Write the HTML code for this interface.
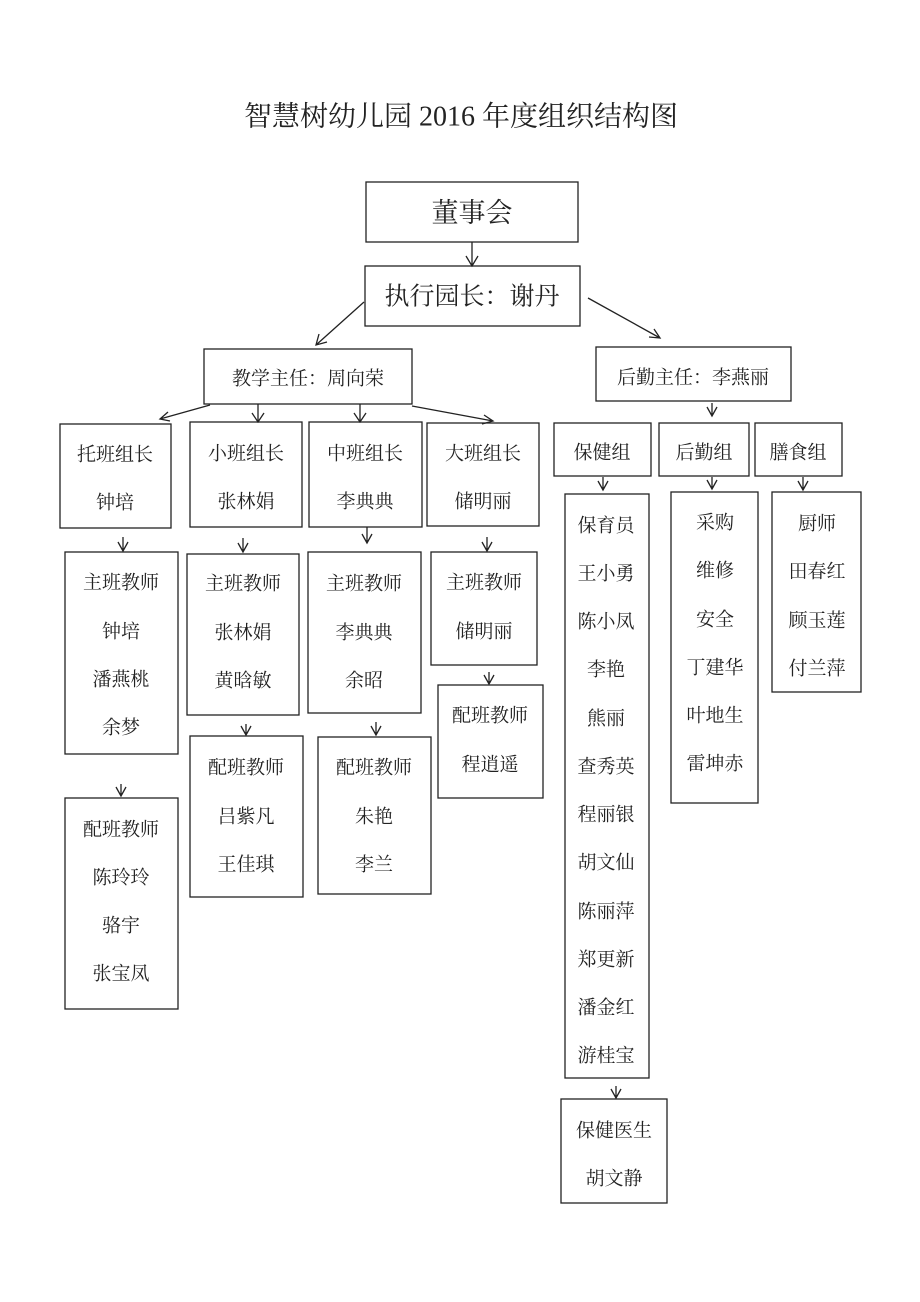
<!DOCTYPE html>
<html><head><meta charset="utf-8"><style>
html,body{margin:0;padding:0;background:#fff;}
svg{display:block;}
text{font-family:"Liberation Serif","Noto Serif CJK SC",serif;font-size:19px;fill:#222;text-anchor:middle;dominant-baseline:central;}
rect{fill:none;stroke:#222;stroke-width:1.3;}
path,line{stroke:#222;stroke-width:1.3;fill:none;}
</style></head><body>
<svg width="920" height="1302" viewBox="0 0 920 1302" xmlns="http://www.w3.org/2000/svg">
<text x="461" y="117" style="font-size:28px">智慧树幼儿园 2016 年度组织结构图</text>
<g transform="translate(0,2)">
<rect x="366" y="180" width="212" height="60"/><text x="472" y="211" style="font-size:27px">董事会</text>
<rect x="365" y="264" width="215" height="60"/><text x="472" y="295" style="font-size:25px">执行园长：谢丹</text>
<rect x="204" y="347" width="208" height="55"/><text x="308" y="377">教学主任：周向荣</text>
<rect x="596" y="345" width="195" height="54"/><text x="693" y="376">后勤主任：李燕丽</text>

<rect x="60" y="422" width="111" height="104"/><text x="115" y="453">托班组长</text><text x="115" y="501">钟培</text>
<rect x="190" y="420" width="112" height="105"/><text x="246" y="452">小班组长</text><text x="246" y="500">张林娟</text>
<rect x="309" y="420" width="113" height="105"/><text x="365" y="452">中班组长</text><text x="365" y="500">李典典</text>
<rect x="427" y="421" width="112" height="103"/><text x="483" y="452">大班组长</text><text x="483" y="500">储明丽</text>

<rect x="554" y="421" width="97" height="53"/><text x="602" y="451">保健组</text>
<rect x="659" y="421" width="90" height="53"/><text x="704" y="451">后勤组</text>
<rect x="755" y="421" width="87" height="53"/><text x="798" y="451">膳食组</text>

<rect x="65" y="550" width="113" height="202"/><text x="121" y="581">主班教师</text><text x="121" y="630">钟培</text><text x="121" y="678">潘燕桃</text><text x="121" y="726">余梦</text>
<rect x="65" y="796" width="113" height="211"/><text x="121" y="828">配班教师</text><text x="121" y="876">陈玲玲</text><text x="121" y="924">骆宇</text><text x="121" y="972">张宝凤</text>
<rect x="187" y="552" width="112" height="161"/><text x="243" y="582">主班教师</text><text x="243" y="631">张林娟</text><text x="243" y="679">黄晗敏</text>
<rect x="190" y="734" width="113" height="161"/><text x="246" y="766">配班教师</text><text x="246" y="815">吕紫凡</text><text x="246" y="863">王佳琪</text>
<rect x="308" y="550" width="113" height="161"/><text x="364" y="582">主班教师</text><text x="364" y="631">李典典</text><text x="364" y="679">余昭</text>
<rect x="318" y="735" width="113" height="157"/><text x="374" y="766">配班教师</text><text x="374" y="815">朱艳</text><text x="374" y="863">李兰</text>
<rect x="431" y="550" width="106" height="113"/><text x="484" y="581">主班教师</text><text x="484" y="630">储明丽</text>
<rect x="438" y="683" width="105" height="113"/><text x="490" y="714">配班教师</text><text x="490" y="763">程逍遥</text>

<rect x="565" y="492" width="84" height="584"/>
<text x="606" y="524">保育员</text><text x="606" y="572">王小勇</text><text x="606" y="620">陈小凤</text><text x="606" y="668">李艳</text><text x="606" y="717">熊丽</text><text x="606" y="765">查秀英</text><text x="606" y="813">程丽银</text><text x="606" y="861">胡文仙</text><text x="606" y="910">陈丽萍</text><text x="606" y="958">郑更新</text><text x="606" y="1006">潘金红</text><text x="606" y="1054">游桂宝</text>
<rect x="671" y="490" width="87" height="311"/>
<text x="715" y="521">采购</text><text x="715" y="569">维修</text><text x="715" y="618">安全</text><text x="715" y="666">丁建华</text><text x="715" y="714">叶地生</text><text x="715" y="762">雷坤赤</text>
<rect x="772" y="490" width="89" height="200"/>
<text x="817" y="522">厨师</text><text x="817" y="570">田春红</text><text x="817" y="619">顾玉莲</text><text x="817" y="667">付兰萍</text>
<rect x="561" y="1097" width="106" height="104"/><text x="614" y="1129">保健医生</text><text x="614" y="1177">胡文静</text>
</g>
<!-- arrows -->
<path d="M472 242V266M466 256L472 266L478 256"/>
<path d="M364 302L316 345M319 334L316 345L327 342"/>
<path d="M588 298L660 338M649 337L660 338L654 329"/>
<path d="M210 405L160 419M168 412L160 419L170 421"/>
<path d="M258 404V422M252 413L258 422L264 413"/>
<path d="M360 404V422M354 413L360 422L366 413"/>
<path d="M412 406L493 421M484 415L493 421L482 424"/>
<path d="M712 403V416M707 407L712 416L717 407"/>
<path d="M603 477V490M598 481L603 490L608 481"/>
<path d="M712 477V489M707 480L712 489L717 480"/>
<path d="M803 477V490M798 481L803 490L808 481"/>
<path d="M123 537V551M118 542L123 551L128 542"/>
<path d="M243 538V552M238 543L243 552L248 543"/>
<path d="M367 527V543M362 534L367 543L372 534"/>
<path d="M487 537V551M482 542L487 551L492 542"/>
<path d="M121 784V796M116 787L121 796L126 787"/>
<path d="M246 724V735M241 726L246 735L251 726"/>
<path d="M376 722V735M371 726L376 735L381 726"/>
<path d="M489 672V684M484 675L489 684L494 675"/>
<path d="M616 1086V1098M611 1089L616 1098L621 1089"/>
</svg>
</body></html>
